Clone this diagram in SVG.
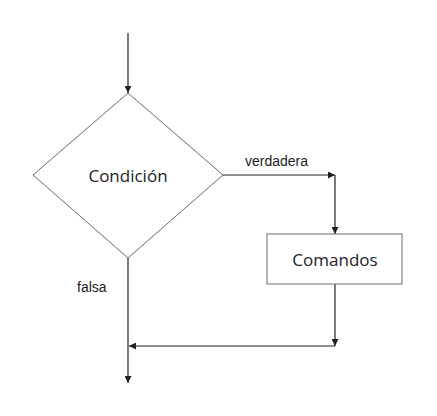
<svg xmlns="http://www.w3.org/2000/svg" width="437" height="416" viewBox="0 0 437 416">
<style>
.shape{fill:#fff;stroke:#6a6a6a;stroke-width:1}
.line{fill:none;stroke:#222;stroke-width:1.2}
.lbl{font-family:"Open Sans",sans-serif;font-size:17px;fill:#222;text-anchor:middle}
.edge{font-family:"Liberation Sans",Arial,sans-serif;font-size:14px;fill:#222}
</style>
<defs>
<marker id="arr" viewBox="0 0 10 10" refX="10" refY="5" markerWidth="7" markerHeight="7" markerUnits="userSpaceOnUse" orient="auto">
<path d="M0,0 L10,5 L0,10 Z" fill="#222"/>
</marker>
</defs>
<rect width="437" height="416" fill="#fff"/>
<g id="connectors">
<line class="line" x1="128" y1="33" x2="128" y2="93" marker-end="url(#arr)"/>
<polyline class="line" points="223,175 335,175" marker-end="url(#arr)"/>
<line class="line" x1="335" y1="175" x2="335" y2="234" marker-end="url(#arr)"/>
<line class="line" x1="335" y1="284" x2="335" y2="346" marker-end="url(#arr)"/>
<line class="line" x1="335" y1="346" x2="129" y2="346" marker-end="url(#arr)"/>
<line class="line" x1="128" y1="258" x2="128" y2="383" marker-end="url(#arr)"/>
<text class="edge" x="245" y="166">verdadera</text>
<text class="edge" x="77" y="292">falsa</text>
</g>
<g id="condicion">
<polygon class="shape" points="128,93 223,175 128,258 33,175"/>
<text class="lbl" x="128" y="182">Condición</text>
</g>
<g id="comandos">
<rect class="shape" x="267" y="234" width="135" height="50"/>
<text class="lbl" x="335" y="266">Comandos</text>
</g>
</svg>
